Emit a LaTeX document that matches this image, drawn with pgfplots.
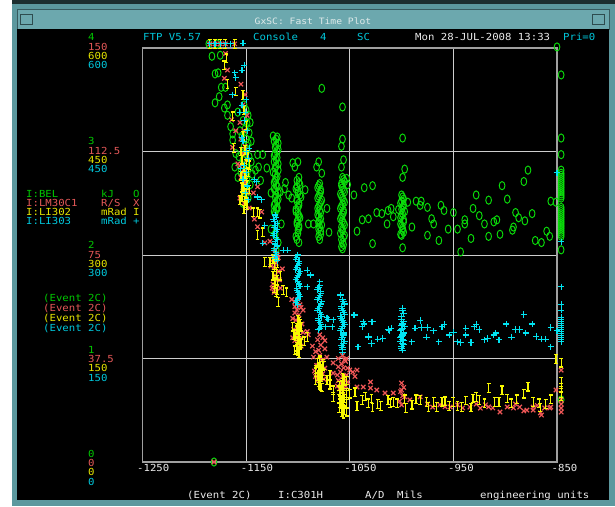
\documentclass[border=0pt]{standalone}
\usepackage{pgfplots}
\usepackage{pgfplotstable}
\pgfplotsset{compat=1.18}
\usepackage{fontspec}
\setmainfont{DejaVu Sans Mono}[FakeStretch=1.1]
\setmonofont{DejaVu Sans Mono}[FakeStretch=1.1]

\definecolor{cg}{RGB}{0,200,0}
\definecolor{cr}{RGB}{228,88,88}
\definecolor{cy}{RGB}{230,230,0}
\definecolor{cc}{RGB}{0,200,220}
\definecolor{tw}{RGB}{235,235,235}
\definecolor{mg}{RGB}{10,220,10}
\definecolor{mr}{RGB}{238,86,86}
\definecolor{my}{RGB}{248,248,0}
\definecolor{mc}{RGB}{0,228,242}
\definecolor{framec}{RGB}{160,160,160}
\definecolor{gridc}{RGB}{205,205,205}
\definecolor{winteal}{RGB}{92,152,158}
\definecolor{titleteal}{RGB}{108,168,174}
\definecolor{titletext}{RGB}{222,234,234}

\pgfdeclareplotmark{Ibar}{%
  \pgfpathmoveto{\pgfqpoint{0pt}{-\pgfplotmarksize}}%
  \pgfpathlineto{\pgfqpoint{0pt}{\pgfplotmarksize}}%
  \pgfpathmoveto{\pgfqpoint{-0.45\pgfplotmarksize}{\pgfplotmarksize}}%
  \pgfpathlineto{\pgfqpoint{0.45\pgfplotmarksize}{\pgfplotmarksize}}%
  \pgfpathmoveto{\pgfqpoint{-0.45\pgfplotmarksize}{-\pgfplotmarksize}}%
  \pgfpathlineto{\pgfqpoint{0.45\pgfplotmarksize}{-\pgfplotmarksize}}%
  \pgfusepathqstroke}

% I:BEL  (kJ)
\pgfplotstableread{
x y
-1186 4.04
-1178 4.04
-1183 3.92
-1175 3.93
-1180 3.75
-1177 3.76
-1174 3.62
-1170 3.62
-1176 3.53
-1180 3.47
-1171 3.42
-1168 3.45
-1168 3.35
-1165 3.24
-1163 3.17
-1163 3.11
-1160 2.98
-1161 2.85
-1158 2.75
-1152 3.45
-1150 3.40
-1148 3.35
-1153 3.30
-1149 3.27
-1151 3.22
-1147 3.18
-1154 3.15
-1150 3.12
-1148 3.08
-1152 3.05
-1149 3.02
-1151 2.98
-1147 2.95
-1153 2.92
-1150 2.88
-1148 2.84
-1155 2.80
-1151 2.76
-1149 2.72
-1146 2.68
-1152 2.64
-1150 2.60
-1148 2.55
-1153 2.50
-1156 3.20
-1145 3.10
-1157 2.95
-1145 2.90
-1144 2.78
-1158 3.38
-1146 3.28
-1139 2.97
-1134 2.97
-1138 2.85
-1130 2.84
-1141 2.82
-1136 2.72
-1124 3.15
-1121 3.12
-1119 3.08
-1122 3.04
-1120 3.00
-1123 2.96
-1121 2.92
-1119 2.88
-1122 2.84
-1124 2.80
-1120 2.76
-1122 2.72
-1121 2.68
-1123 2.64
-1119 2.60
-1122 2.56
-1120 2.52
-1123 2.48
-1121 2.44
-1122 2.40
-1120 3.14
-1123 3.10
-1121 3.06
-1119 3.02
-1122 2.98
-1120 2.94
-1123 2.90
-1121 2.86
-1119 2.82
-1122 2.78
-1121 2.74
-1123 2.70
-1120 2.66
-1122 2.62
-1121 2.58
-1119 2.54
-1122 2.50
-1120 2.46
-1123 2.42
-1116 2.30
-1122 2.20
-1126 2.25
-1119 2.12
-1121 2.05
-1112 2.70
-1109 2.58
-1113 2.64
-1117 2.61
-1126 2.60
-1120 2.45
-1100 2.90
-1103 2.85
-1099 2.75
-1101 2.72
-1098 2.68
-1102 2.64
-1100 2.60
-1097 2.56
-1101 2.52
-1099 2.48
-1102 2.44
-1100 2.40
-1098 2.36
-1101 2.32
-1099 2.28
-1100 2.24
-1102 2.18
-1099 2.12
-1099 2.70
-1101 2.66
-1100 2.62
-1098 2.58
-1101 2.54
-1099 2.50
-1100 2.46
-1102 2.42
-1099 2.38
-1100 2.34
-1101 2.30
-1099 2.26
-1100 2.21
-1101 2.15
-1093 2.63
-1106 2.55
-1090 2.30
-1105 2.89
-1079 2.69
-1081 2.65
-1078 2.61
-1080 2.57
-1077 2.53
-1079 2.49
-1081 2.45
-1078 2.41
-1080 2.37
-1079 2.33
-1077 2.29
-1080 2.25
-1078 2.20
-1079 2.15
-1080 2.67
-1078 2.63
-1079 2.59
-1081 2.55
-1078 2.51
-1080 2.47
-1079 2.43
-1081 2.39
-1078 2.35
-1080 2.31
-1079 2.27
-1078 2.23
-1080 2.18
-1080 2.90
-1082 2.85
-1077 2.79
-1077 3.61
-1072 2.45
-1085 2.30
-1070 2.22
-1057 3.43
-1057 3.12
-1058 3.05
-1056 2.92
-1058 2.85
-1057 2.75
-1055 2.71
-1058 2.67
-1056 2.63
-1059 2.59
-1057 2.55
-1055 2.51
-1058 2.47
-1056 2.43
-1057 2.39
-1059 2.35
-1056 2.31
-1058 2.27
-1057 2.23
-1055 2.19
-1058 2.15
-1056 2.10
-1057 2.06
-1056 2.73
-1058 2.69
-1057 2.65
-1055 2.61
-1058 2.57
-1056 2.53
-1057 2.49
-1059 2.45
-1056 2.41
-1058 2.37
-1057 2.33
-1055 2.29
-1057 2.25
-1059 2.21
-1056 2.17
-1057 2.12
-1058 2.08
-1052 2.68
-1053 2.74
-999 3.13
-997 2.83
-999 2.75
-1000 2.58
-998 2.54
-1001 2.50
-999 2.46
-997 2.42
-1000 2.38
-998 2.34
-1001 2.30
-999 2.26
-998 2.22
-1000 2.19
-999 2.07
-999 2.56
-1000 2.52
-998 2.48
-1000 2.44
-999 2.40
-1001 2.36
-998 2.32
-1000 2.28
-999 2.24
-1001 2.20
-1036 2.65
-1028 2.67
-1046 2.58
-1043 2.23
-1038 2.34
-1032 2.35
-1028 2.11
-1024 2.41
-1019 2.40
-1014 2.30
-1013 2.43
-1010 2.45
-1008 2.37
-1003 2.44
-994 2.51
-990 2.27
-986 2.52
-981 2.52
-982 2.48
-975 2.46
-975 2.19
-971 2.35
-969 2.30
-964 2.14
-962 2.48
-959 2.43
-955 2.25
-950 2.41
-946 2.25
-943 2.03
-939 2.34
-939 2.30
-933 2.16
-931 2.45
-928 2.58
-925 2.38
-920 2.30
-916 2.18
-916 2.53
-911 2.32
-908 2.34
-905 2.20
-903 2.67
-898 2.54
-893 2.24
-892 2.27
-890 2.41
-887 2.36
-882 2.71
-881 2.33
-878 2.82
-874 2.40
-871 2.14
-865 2.12
-860 2.23
-857 2.18
-856 2.52
-851 2.51
-850 4.01
-846 3.74
-846 3.13
-846 2.97
-846 2.82
-846 2.79
-846 2.75
-846 2.71
-846 2.67
-846 2.63
-846 2.59
-846 2.55
-846 2.77
-846 2.73
-846 2.69
-846 2.65
-846 2.61
-846 2.57
-846 2.46
-846 2.42
-846 2.38
-846 2.34
-846 2.30
-846 2.26
-846 2.22
-846 2.18
-846 2.44
-846 2.40
-846 2.36
-846 2.32
-846 2.28
-846 2.24
-846 2.20
-846 2.05
-846 0.60
-1181 0
}\greendata

% I:LM30C1 (R/S)
\pgfplotstableread{
x y
-1185 151.5
-1180 151.5
-1175 151.5
-1170 151.5
-1161 151.5
-1170 148
-1168 142
-1171 139
-1164 124
-1163 114
-1155 136.9
-1151 133.1
-1153 129.4
-1149 125.6
-1156 123.0
-1152 120.0
-1155 117.0
-1151 114.4
-1153 111.8
-1149 109.5
-1156 107.3
-1152 105.0
-1155 103.1
-1151 101.3
-1153 99.4
-1149 97.5
-1156 95.6
-1152 93.8
-1139 99.7
-1143 97.5
-1135 90.6
-1139 85.2
-1142 88.0
-1132 79.4
-1147 92.0
-1158 108.0
-1160 120.0
-1122 76.9
-1120 75.0
-1124 73.5
-1121 72.0
-1123 70.5
-1119 69.0
-1122 67.5
-1120 66.0
-1124 64.5
-1121 63.0
-1123 61.5
-1119 74.0
-1126 71.0
-1118 66.0
-1125 63.0
-1117 63.0
-1106 58.9
-1103 56.3
-1091 47.3
-1090 46.1
-1127 80.0
-1115 70.0
-1100 58.9
-1098 57.0
-1101 55.1
-1099 53.3
-1102 51.4
-1100 49.5
-1098 47.6
-1101 45.8
-1099 43.9
-1100 42.4
-1097 56.0
-1103 54.0
-1096 50.0
-1104 48.0
-1097 45.0
-1103 44.0
-1095 55.0
-1105 52.0
-1095 47.0
-1105 45.0
-1097 42.0
-1103 58.0
-1079 46.1
-1081 44.3
-1078 42.4
-1080 40.5
-1079 38.6
-1077 36.8
-1080 34.9
-1078 33.0
-1079 31.1
-1081 29.6
-1076 45.0
-1083 40.0
-1076 37.0
-1082 35.0
-1076 32.0
-1083 31.0
-1074 41.0
-1085 38.0
-1074 34.0
-1084 33.0
-1075 30.0
-1072 38.0
-1066 35.9
-1066 32.2
-1086 42.0
-1074 44.0
-1057 38.6
-1055 37.1
-1058 35.6
-1056 34.1
-1059 32.6
-1057 31.1
-1055 29.6
-1058 28.1
-1056 26.6
-1057 25.5
-1054 36.5
-1061 34.5
-1053 31.5
-1061 29.5
-1054 27.5
-1060 26.5
-1052 34.0
-1062 31.5
-1052 29.0
-1062 27.5
-1053 37.5
-1061 37.5
-1047 32.6
-1045 31.0
-1050 33.3
-1043 33.3
-1043 27.2
-1037 27.2
-1030 26.8
-1030 29.0
-1024 26.1
-1016 25.0
-1008 25.0
-1000 28.6
-1000 26.1
-997 23.6
-1000 20.7
-998 27.0
-1001 25.5
-999 24.0
-1002 22.0
-992 22.5
-982 23.6
-975 21.0
-970 19.9
-963 20.7
-958 20.0
-953 19.9
-946 20.7
-941 19.6
-934 19.9
-928 21.0
-924 19.5
-919 20.7
-916 20.0
-912 19.6
-905 18.1
-898 19.9
-892 19.6
-890 21.0
-886 19.9
-882 18.5
-879 18.8
-873 19.9
-873 18.8
-869 20.5
-866 17.8
-865 17.0
-862 19.6
-857 19.6
-856 19.9
-851 26.1
-846 33.3
-846 22.5
-846 21.0
-846 19.5
-846 18.1
-1181 0
}\reddata

% I:LI302 (mRad)
\pgfplotstableread{
x y
-1185 606
-1180 606
-1175 606
-1170 606
-1161 606
-1169 585
-1171 575
-1168 548
-1160 537
-1153 532
-1163 501
-1162 455
-1152 510
-1150 488
-1153 473
-1151 452
-1149 444
-1154 438
-1150 432
-1152 426
-1148 420
-1151 414
-1153 408
-1149 402
-1152 396
-1150 390
-1154 384
-1151 378
-1149 372
-1152 366
-1155 450
-1147 430
-1155 415
-1147 395
-1156 380
-1150 405
-1150 375
-1148 445
-1154 398
-1143 362
-1139 362
-1132 290
-1134 333
-1139 329
-1137 360
-1122 300
-1124 294
-1120 288
-1123 282
-1121 276
-1124 270
-1120 264
-1122 258
-1123 252
-1121 246
-1121 297
-1123 285
-1121 273
-1123 261
-1120 249
-1119 232
-1114 249
-1111 246
-1127 290
-1117 270
-1100 206
-1098 200
-1101 194
-1099 188
-1102 182
-1100 176
-1098 170
-1101 164
-1099 158
-1099 203
-1101 191
-1099 179
-1101 167
-1100 161
-1097 196
-1103 186
-1097 172
-1103 162
-1105 196
-1104 184
-1091 181
-1094 175
-1079 148
-1081 144
-1078 140
-1080 136
-1077 132
-1079 128
-1081 124
-1078 120
-1080 116
-1079 112
-1077 108
-1079 146
-1080 138
-1079 130
-1080 122
-1079 114
-1078 110
-1076 142
-1083 134
-1076 126
-1083 118
-1069 126
-1072 119
-1069 112
-1066 104
-1066 94
-1083 130
-1075 140
-1057 122
-1055 117
-1058 112
-1056 107
-1059 102
-1057 97
-1055 92
-1058 87
-1056 82
-1057 77
-1058 72
-1055 75
-1059 85
-1056 120
-1057 115
-1056 110
-1057 105
-1056 100
-1057 95
-1056 90
-1057 85
-1056 80
-1057 74
-1056 70
-1053 118
-1060 110
-1053 100
-1060 92
-1053 84
-1060 78
-1053 73
-1060 104
-1045 101
-1053 97
-1050 99
-1043 81
-1038 90
-1035 95
-1032 85
-1029 92
-1028 79
-1023 84
-1020 81
-1013 90
-1011 85
-1008 87
-1004 85
-997 91
-996 78
-990 83
-986 91
-982 90
-976 87
-974 80
-969 87
-966 80
-961 87
-958 88
-954 81
-950 87
-946 81
-942 80
-938 89
-933 79
-931 92
-928 94
-925 90
-920 85
-916 107
-910 87
-906 87
-903 104
-898 92
-894 85
-889 91
-882 99
-878 109
-873 87
-867 85
-866 79
-861 84
-856 91
-851 149
-846 144
-846 116
-846 108
-846 100
-846 95
}\yellowdata

% I:LI303 (mRad)
\pgfplotstableread{
x y
-1185 606
-1180 606
-1175 606
-1170 606
-1165 606
-1153 607
-1152 575
-1154 568
-1161 564
-1160 557
-1163 532
-1154 517
-1156 507
-1151 507
-1150 525
-1152 495
-1149 480
-1153 465
-1150 450
-1148 440
-1152 430
-1150 420
-1153 410
-1149 400
-1151 390
-1148 380
-1154 470
-1147 455
-1155 425
-1142 409
-1140 406
-1139 384
-1135 380
-1132 343
-1134 317
-1114 307
-1110 307
-1122 358
-1124 352
-1120 346
-1123 340
-1121 334
-1124 328
-1120 322
-1122 316
-1123 310
-1121 304
-1122 298
-1120 292
-1121 355
-1123 349
-1122 343
-1120 337
-1123 331
-1121 325
-1122 319
-1120 313
-1123 307
-1121 301
-1122 295
-1100 300
-1102 294
-1099 288
-1101 282
-1098 276
-1100 270
-1102 264
-1099 258
-1101 252
-1100 246
-1098 240
-1101 234
-1100 228
-1101 297
-1099 291
-1100 285
-1102 279
-1099 273
-1101 267
-1100 261
-1098 255
-1101 249
-1099 243
-1100 237
-1102 231
-1088 271
-1091 254
-1079 261
-1091 278
-1079 256
-1081 250
-1078 244
-1080 238
-1077 232
-1079 226
-1081 220
-1078 214
-1080 208
-1079 202
-1077 196
-1080 192
-1080 253
-1078 247
-1079 241
-1081 235
-1078 229
-1080 223
-1079 217
-1077 211
-1080 205
-1078 199
-1079 194
-1072 209
-1066 206
-1067 196
-1073 196
-1059 242
-1057 235
-1055 229
-1058 223
-1056 217
-1059 211
-1057 205
-1055 199
-1058 193
-1056 187
-1057 181
-1055 175
-1058 169
-1057 163
-1057 159
-1056 232
-1058 226
-1057 220
-1055 214
-1058 208
-1056 202
-1057 196
-1059 190
-1056 184
-1058 178
-1056 172
-1057 166
-1045 213
-1038 196
-1037 203
-1032 181
-1028 203
-1042 167
-1046 213
-1036 200
-1029 203
-1071 207
-1032 182
-1029 172
-1023 178
-1018 179
-1013 192
-1010 194
-1012 190
-999 223
-998 215
-1000 207
-999 200
-997 196
-1000 192
-998 188
-999 184
-1001 180
-998 176
-999 172
-1000 168
-999 162
-999 219
-1000 211
-998 203
-1000 198
-999 194
-1001 190
-998 186
-1000 182
-999 178
-1001 174
-998 170
-1000 165
-990 174
-987 194
-982 205
-981 195
-975 195
-976 181
-969 190
-964 174
-961 196
-959 199
-954 184
-950 188
-946 174
-943 173
-938 194
-938 184
-933 173
-930 196
-928 199
-925 192
-920 177
-917 179
-911 184
-909 187
-906 177
-899 200
-894 181
-890 192
-886 192
-882 214
-880 187
-874 200
-870 182
-865 178
-861 178
-856 195
-856 167
-850 190
-850 419
-846 319
-846 254
-846 228
-846 220
-846 210
-846 204
-846 198
-846 192
-846 186
-846 180
-846 174
-846 207
-846 201
-846 195
-846 189
-846 183
-846 177
}\cyandata

\begin{document}
\begin{tikzpicture}[font=\fontsize{9.7}{11}\selectfont]
% window chrome
\fill[white] (-142.5pt,-44pt) rectangle (472.5pt,462pt);
\fill[winteal] (-130.5pt,-44pt) rectangle (472.5pt,462pt);
\fill[black!70!winteal] (-130.5pt,458pt) rectangle (472.5pt,462pt);
\fill[titleteal] (-125.5pt,433pt) rectangle (466.5pt,453pt);
\draw[black!40!winteal, line width=0.8pt] (-125.5pt,433pt) rectangle (466.5pt,453pt);
\draw[black!50!winteal, line width=0.8pt] (-122pt,438pt) rectangle (-110pt,448pt);
\draw[black!50!winteal, line width=0.8pt] (450pt,438pt) rectangle (462pt,448pt);
\fill[black] (-125.5pt,-38pt) rectangle (466.5pt,433pt);
\node[text=titletext, font=\fontsize{8.8}{10}\selectfont] at (170.5pt,441pt) {GxSC: Fast Time Plot};

\begin{axis}[
  at={(0pt,0pt)}, anchor=south west,
  scale only axis, width=414.5pt, height=414pt,
  xmin=-1250, xmax=-850, ymin=0, ymax=4,
  xtick={-1250,-1150,-1050,-950,-850},
  xticklabels={-1250,-1150,-1050,-950,-850},
  ytick={1,2,3}, yticklabels={},
  xmajorgrids, ymajorgrids,
  grid style={draw=gridc, line width=1pt},
  axis line style={draw=framec, line width=1.6pt},
  major tick length=0pt,
  xticklabel style={text=tw, anchor=north west, xshift=-5.5pt, yshift=-2.4pt, inner sep=0pt, font=\fontsize{9.7}{11}\selectfont},
  clip=false,
]
\addplot[only marks, mark=o, mark size=4.1pt, mark options={xscale=0.7, draw=mg, line width=0.95pt}] table[x=x, y=y] {\greendata};
\addplot[only marks, mark=x, mark size=3.1pt, mark options={draw=mr, line width=1.2pt}] table[x=x, y expr=\thisrow{y}/37.5] {\reddata};
\addplot[only marks, mark=Ibar, mark size=4.3pt, mark options={draw=my, line width=1.2pt}] table[x=x, y expr=\thisrow{y}/150] {\yellowdata};
\addplot[only marks, mark=+, mark size=3.2pt, mark options={draw=mc, line width=1.1pt}] table[x=x, y expr=\thisrow{y}/150] {\cyandata};
\end{axis}

\begin{scope}[every node/.style={inner sep=0pt, anchor=base west}]
% header line
\node[text=cc] at (0.5pt,421pt) {FTP V5.57};
\node[text=cc] at (110.5pt,421pt) {Console};
\node[text=cc] at (177.5pt,421pt) {4};
\node[text=cc] at (214.5pt,421pt) {SC};
\node[text=tw] at (272.5pt,421pt) {Mon 28-JUL-2008 13:33};
\node[text=cc] at (420.5pt,421pt) {Pri=0};
% left value scales
\foreach \g/\r/\v/\b in {4/150/600/421, 3/112.5/450/317, 2/75/300/213, 1/37.5/150/109, 0/0/0/5}{
  \node[text=cg] at (-54.5pt,\b pt) {\g};
  \node[text=cr] at (-54.5pt,\b pt-9.3pt) {\r};
  \node[text=cy] at (-54.5pt,\b pt-18.7pt) {\v};
  \node[text=cc] at (-54.5pt,\b pt-28pt) {\v};
}
% device legend
\node[text=cg] at (-116.5pt,264pt) {I:BEL};
\node[text=cg] at (-41.5pt,264pt) {kJ};
\node[text=cg] at (-9.5pt,264pt) {O};
\node[text=cr] at (-116.5pt,255pt) {I:LM30C1};
\node[text=cr] at (-41.5pt,255pt) {R/S};
\node[text=cr] at (-9.5pt,255pt) {X};
\node[text=cy] at (-116.5pt,246pt) {I:LI302};
\node[text=cy] at (-41.5pt,246pt) {mRad};
\node[text=cy] at (-9.5pt,246pt) {I};
\node[text=cc] at (-116.5pt,237pt) {I:LI303};
\node[text=cc] at (-41.5pt,237pt) {mRad};
\node[text=cc] at (-9.5pt,237pt) {+};
\node[text=cg] at (-99.5pt,160pt) {(Event 2C)};
\node[text=cr] at (-99.5pt,150pt) {(Event 2C)};
\node[text=cy] at (-99.5pt,140pt) {(Event 2C)};
\node[text=cc] at (-99.5pt,130pt) {(Event 2C)};
% bottom line
\node[text=tw] at (44.5pt,-36pt) {(Event 2C)};
\node[text=tw] at (135.5pt,-36pt) {I:C301H};
\node[text=tw] at (222.5pt,-36pt) {A/D};
\node[text=tw] at (254.5pt,-36pt) {Mils};
\node[text=tw] at (337.5pt,-36pt) {engineering units};
\end{scope}
\end{tikzpicture}
\end{document}
